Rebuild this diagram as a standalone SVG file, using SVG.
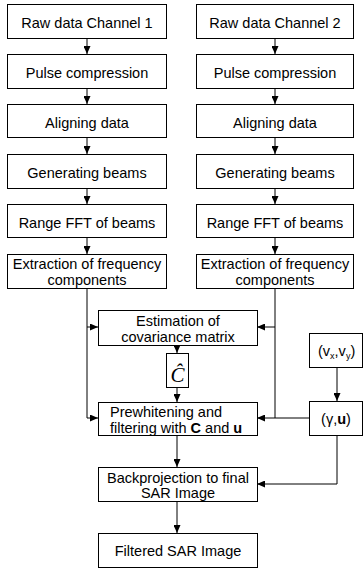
<svg xmlns="http://www.w3.org/2000/svg" width="363" height="568" viewBox="0 0 363 568">
<style>
.box{fill:#fff;stroke:#000;stroke-width:1}
.t{font-family:"Liberation Sans",Arial,sans-serif;font-size:14.5px;fill:#000;text-anchor:middle}
.ts{font-family:"Liberation Sans",Arial,sans-serif;font-size:14.5px;fill:#000}
.c{fill:none;stroke:#000;stroke-width:1}
</style>
<defs>
<marker id="ah" markerWidth="8" markerHeight="7" refX="8" refY="3.5" orient="auto" markerUnits="userSpaceOnUse">
<path d="M0,0 L8,3.5 L0,7 z" fill="#000"/>
</marker>
</defs>
<rect width="363" height="568" fill="#fff"/>
<g id="connectors">
<path class="c" d="M87,38 V54" marker-end="url(#ah)"/>
<path class="c" d="M87,88 V104" marker-end="url(#ah)"/>
<path class="c" d="M87,137 V154" marker-end="url(#ah)"/>
<path class="c" d="M87,188 V204" marker-end="url(#ah)"/>
<path class="c" d="M87,237 V254" marker-end="url(#ah)"/>
<path class="c" d="M275,38 V54" marker-end="url(#ah)"/>
<path class="c" d="M275,88 V104" marker-end="url(#ah)"/>
<path class="c" d="M275,137 V154" marker-end="url(#ah)"/>
<path class="c" d="M275,188 V204" marker-end="url(#ah)"/>
<path class="c" d="M275,237 V254" marker-end="url(#ah)"/>
<path class="c" d="M87,288 V418 H98" marker-end="url(#ah)"/>
<path class="c" d="M87,327 H98" marker-end="url(#ah)"/>
<path class="c" d="M275,288 V418"/>
<path class="c" d="M275,327 H257" marker-end="url(#ah)"/>
<path class="c" d="M309,418 H257" marker-end="url(#ah)"/>
<path class="c" d="M177,345 V353" marker-end="url(#ah)"/>
<path class="c" d="M177,387 V402" marker-end="url(#ah)"/>
<path class="c" d="M177,435 V467" marker-end="url(#ah)"/>
<path class="c" d="M177,501 V533" marker-end="url(#ah)"/>
<path class="c" d="M337,367 V401" marker-end="url(#ah)"/>
<path class="c" d="M337,435 V484 H257" marker-end="url(#ah)"/>
</g>
<g id="raw1"><rect class="box" x="7.5" y="4.5" width="159" height="34"/><text class="t" x="87" y="27.5">Raw data Channel 1</text></g>
<g id="pulse1"><rect class="box" x="7.5" y="54.5" width="159" height="34"/><text class="t" x="87" y="77.5">Pulse compression</text></g>
<g id="align1"><rect class="box" x="7.5" y="104.5" width="159" height="33"/><text class="t" x="87" y="127.5">Aligning data</text></g>
<g id="beams1"><rect class="box" x="7.5" y="154.5" width="159" height="34"/><text class="t" x="87" y="177.5">Generating beams</text></g>
<g id="fft1"><rect class="box" x="7.5" y="204.5" width="159" height="33"/><text class="t" x="87" y="227.5">Range FFT of beams</text></g>
<g id="extr1"><rect class="box" x="7.5" y="254.5" width="159" height="34"/><text class="t" x="87" y="268.5">Extraction of frequency</text><text class="t" x="87" y="285">components</text></g>
<g id="raw2"><rect class="box" x="196.5" y="4.5" width="157" height="34"/><text class="t" x="275" y="27.5">Raw data Channel 2</text></g>
<g id="pulse2"><rect class="box" x="196.5" y="54.5" width="157" height="34"/><text class="t" x="275" y="77.5">Pulse compression</text></g>
<g id="align2"><rect class="box" x="196.5" y="104.5" width="157" height="33"/><text class="t" x="275" y="127.5">Aligning data</text></g>
<g id="beams2"><rect class="box" x="196.5" y="154.5" width="157" height="34"/><text class="t" x="275" y="177.5">Generating beams</text></g>
<g id="fft2"><rect class="box" x="196.5" y="204.5" width="157" height="33"/><text class="t" x="275" y="227.5">Range FFT of beams</text></g>
<g id="extr2"><rect class="box" x="196.5" y="254.5" width="157" height="34"/><text class="t" x="275" y="268.5">Extraction of frequency</text><text class="t" x="275" y="285">components</text></g>
<g id="estim"><rect class="box" x="98.5" y="310.5" width="159" height="35"/><text class="t" x="178" y="325.5">Estimation of</text><text class="t" x="178" y="341.5">covariance matrix</text></g>
<g id="chat"><rect class="box" x="166.5" y="353.5" width="22" height="34"/><text x="177.5" y="382" font-family="'Liberation Serif','Times New Roman',serif" font-style="italic" font-size="21" text-anchor="middle">Ĉ</text></g>
<g id="prewhite"><rect class="box" x="98.5" y="402.5" width="159" height="33"/><text class="ts" x="110" y="416.5">Prewhitening and</text><text class="ts" x="110" y="432.5">filtering with <tspan font-weight="bold">C</tspan> and <tspan font-weight="bold">u</tspan></text></g>
<g id="backproj"><rect class="box" x="98.5" y="467.5" width="159" height="34"/><text class="t" x="178" y="482.5">Backprojection to final</text><text class="t" x="178" y="498">SAR Image</text></g>
<g id="filtered"><rect class="box" x="98.5" y="533.5" width="159" height="34"/><text class="t" x="178" y="556">Filtered SAR Image</text></g>
<g id="vxvy"><rect class="box" x="309.5" y="333.5" width="53" height="34"/><text class="ts" x="318" y="355.5">(v<tspan font-size="9" dy="3">x</tspan><tspan dy="-3">,v</tspan><tspan font-size="9" dy="3">y</tspan><tspan dy="-3">)</tspan></text></g>
<g id="gammau"><rect class="box" x="309.5" y="401.5" width="53" height="34"/><text class="t" x="336" y="423.5">(γ,<tspan font-weight="bold">u</tspan>)</text></g>
</svg>
